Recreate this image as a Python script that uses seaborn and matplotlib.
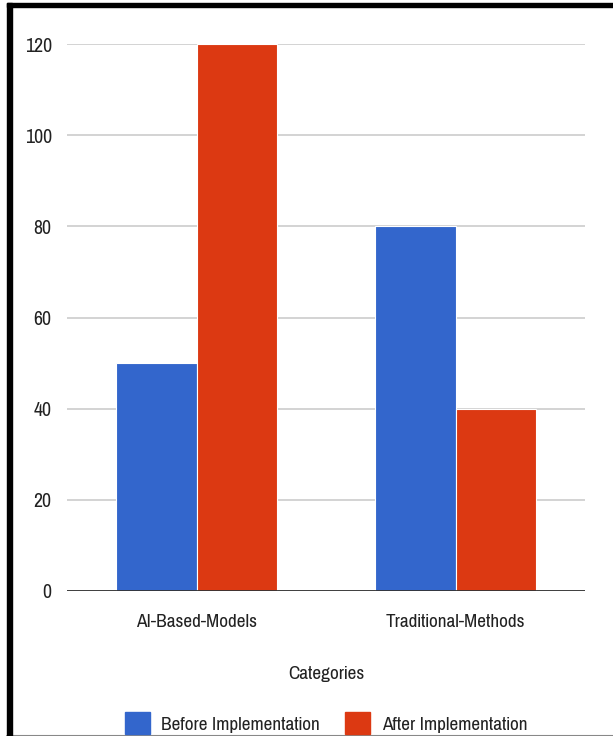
import matplotlib
matplotlib.use("Agg")
import matplotlib.pyplot as plt
import seaborn as sns
import pandas as pd
from matplotlib.patches import Rectangle
from matplotlib.lines import Line2D
from matplotlib import font_manager

categories = ["AI-Based-Models", "Traditional-Methods"]
series_names = ["Before Implementation", "After Implementation"]
before_values = [50, 80]
after_values = [120, 40]
y_ticks = [0, 20, 40, 60, 80, 100, 120]
colors = ["#3366CC", "#DC3912"]

df = pd.DataFrame({
    "Category": categories * 2,
    "Series": [series_names[0]] * 2 + [series_names[1]] * 2,
    "Value": before_values + after_values,
})

sns.set_theme(style="white")
names = {f.name for f in font_manager.fontManager.ttflist}
fam = "Liberation Sans"
for cand in ["Pragati Narrow", "Archivo Narrow", "Roboto Condensed", "PT Sans Narrow"]:
    if cand in names:
        fam = cand
        break
plt.rcParams["font.family"] = [fam, "DejaVu Sans"]
FS = 15

W, H = 613, 736
fig = plt.figure(figsize=(W / 100, H / 100), dpi=100)
ax = fig.add_axes([67 / W, 1 - 591 / H, (585 - 67) / W, (591 - 44) / H])

sns.barplot(data=df, x="Category", y="Value", hue="Series", palette=colors,
            width=0.62, ax=ax, saturation=1, legend=False,
            edgecolor="white", linewidth=0.8)

ax.set_ylim(0, 120)
ax.set_xlim(-0.5, 1.5)
ax.set_yticks(y_ticks)
ax.set_yticklabels([str(v) for v in y_ticks], fontsize=15.5, color="#222222")
ax.tick_params(axis="x", labelsize=FS, colors="#222222", length=0, pad=16.5)
ax.tick_params(axis="y", length=0, pad=11)
ax.set_axisbelow(True)
ax.yaxis.grid(True, color="#cccccc", linewidth=1.2)
for s in ax.spines.values():
    s.set_visible(False)
ax.axhline(0, color="#333333", linewidth=1.3, zorder=5)
ax.set_ylabel("")
ax.set_xlabel("Categories", fontsize=FS, color="#222222", labelpad=26)

# legend
handles = [Rectangle((0, 0), 1, 1, color=c) for c in colors]
fig.legend(handles, series_names, loc="center", bbox_to_anchor=(326 / W, 1 - 723 / H),
           ncol=2, frameon=False, fontsize=FS, handlelength=1.2, handleheight=1.3,
           columnspacing=1.2, handletextpad=0.55, labelcolor="#222222")

# border
fig.patches.append(Rectangle((7 / W, 0), 5 / W, 1 - 3 / H, transform=fig.transFigure,
                             color="black", zorder=10))
fig.patches.append(Rectangle((7 / W, 1 - 7 / H), 1 - 7 / W, 4 / H, transform=fig.transFigure,
                             color="black", zorder=10))
fig.lines.append(Line2D([7 / W, 1], [0.5 / H, 0.5 / H], transform=fig.transFigure,
                        color="#888888", linewidth=1.5))

fig.savefig("out.png", dpi=100)
